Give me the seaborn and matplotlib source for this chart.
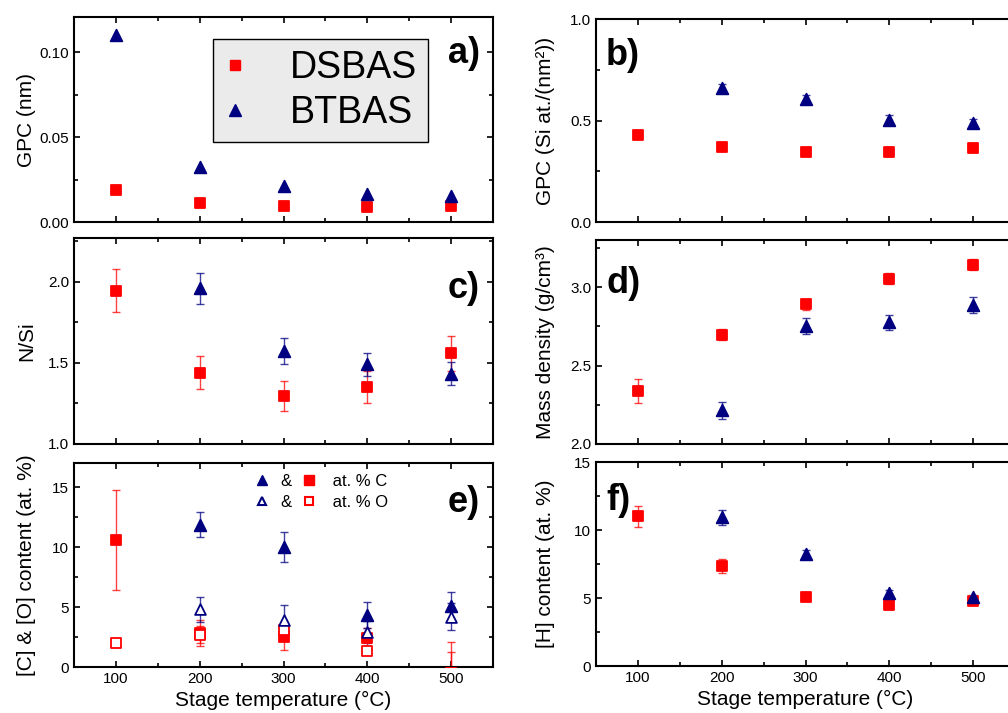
import numpy as np
import pandas as pd
import matplotlib
matplotlib.use("Agg")
import matplotlib.pyplot as plt
from matplotlib.lines import Line2D
from matplotlib.ticker import MultipleLocator, FormatStrFormatter
import seaborn as sns

# ---------------- data ----------------
temps = [100, 200, 300, 400, 500]
temps_bt = [200, 300, 400, 500]

# a) GPC (nm)
gpc_nm_dsbas = [0.0188, 0.0114, 0.0094, 0.0088, 0.0094]
gpc_nm_btbas = [0.110, 0.0324, 0.0214, 0.0163, 0.0155]

# b) GPC (Si at./nm^2)
gpc_si_dsbas = [0.430, 0.372, 0.344, 0.344, 0.365]
gpc_si_btbas = [0.659, 0.605, 0.505, 0.490]
gpc_si_btbas_err = [0.02, 0.02, 0.02, 0.02]

# c) N/Si
nsi_dsbas = [1.946, 1.440, 1.296, 1.353, 1.558]
nsi_dsbas_err = [0.135, 0.100, 0.092, 0.100, 0.110]
nsi_btbas = [1.959, 1.574, 1.492, 1.434]
nsi_btbas_err = [0.098, 0.079, 0.072, 0.072]

# d) Mass density
dens_dsbas = [2.339, 2.695, 2.890, 3.053, 3.142]
dens_dsbas_err = [0.075, 0.035, 0.035, 0.035, 0.035]
dens_btbas = [2.214, 2.754, 2.775, 2.886]
dens_btbas_err = [0.052, 0.052, 0.050, 0.050]

# e) [C] & [O] content
c_dsbas = [10.58, 2.85, 2.50, 2.40, -0.5]
c_dsbas_err = [4.20, 1.10, 1.05, 0.85, 2.55]
o_dsbas = [2.02, 2.70, 3.06, 1.36, -0.5]
o_dsbas_err = [0.20, 0.70, 0.40, 0.25, 1.77]
c_btbas = [11.86, 10.03, 4.35, 5.12]
c_btbas_err = [1.05, 1.25, 1.10, 1.10]
o_btbas = [4.80, 3.95, 2.90, 4.20]
o_btbas_err = [1.03, 1.20, 0.90, 1.15]

# f) [H] content
h_dsbas = [11.00, 7.36, 5.04, 4.47, 4.79]
h_dsbas_err = [0.77, 0.50, 0.20, 0.15, 0.20]
h_btbas = [10.95, 8.26, 5.40, 5.04]
h_btbas_err = [0.55, 0.30, 0.20, 0.20]

legend_a_labels = ["DSBAS", "BTBAS"]
legend_e_labels = ["&", "&", " at. % C", " at. % O"]

RED = "#FF0000"
NAVY = "#000080"

# ---------------- style ----------------
sns.set_style("ticks")
plt.rcParams["font.family"] = ["Liberation Sans", "DejaVu Sans"]
plt.rcParams["axes.linewidth"] = 1.5
for key in ("text.color", "axes.labelcolor", "xtick.color", "ytick.color",
            "axes.edgecolor"):
    plt.rcParams[key] = "black"

fig = plt.figure(figsize=(10.08, 7.13), dpi=100)

W = 0.4157
LX, RX = 0.0734, 0.5913
ax_a = fig.add_axes([LX, 0.6886, W, 0.2875])
ax_c = fig.add_axes([LX, 0.3773, W, 0.2889])
ax_e = fig.add_axes([LX, 0.0645, W, 0.2861])
ax_b = fig.add_axes([RX, 0.6886, W, 0.2847])
ax_d = fig.add_axes([RX, 0.3773, W, 0.2861])
ax_f = fig.add_axes([RX, 0.0659, W, 0.2861])


def points(ax, x, y, marker, color, filled=True, err=None, s=60):
    if err is not None:
        ax.errorbar(x, y, yerr=err, fmt="none", ecolor=color, elinewidth=1.0,
                    capsize=3, capthick=1.0, alpha=0.75, zorder=2)
    df = pd.DataFrame({"T": x, "v": y})
    kw = dict(marker=marker, s=s, color=color, edgecolor=color, linewidth=1.3,
              legend=False, zorder=3)
    if not filled:
        kw["facecolor"] = "white"
    sns.scatterplot(data=df, x="T", y="v", ax=ax, **kw)


def style(ax, ylim, major, minor, fmt, show_x=False):
    ax.set_xlim(50, 550)
    ax.set_ylim(*ylim)
    ax.xaxis.set_major_locator(MultipleLocator(100))
    ax.xaxis.set_minor_locator(MultipleLocator(50))
    ax.yaxis.set_major_locator(MultipleLocator(major))
    ax.yaxis.set_minor_locator(MultipleLocator(minor))
    if fmt:
        ax.yaxis.set_major_formatter(FormatStrFormatter(fmt))
    ax.tick_params(which="both", direction="in", top=True, right=True,
                   width=1.2, labelsize=11, colors="black")
    ax.tick_params(which="major", length=4.5)
    ax.tick_params(which="minor", length=3)
    if not show_x:
        ax.tick_params(axis="x", labelbottom=False)
        ax.set_xlabel("")
    else:
        ax.set_xlabel("Stage temperature (°C)", fontsize=15)
    for sp in ax.spines.values():
        sp.set_linewidth(1.5)
        sp.set_color("black")


def panel_label(ax, text, y, left):
    ax.text(0.024 if left else 0.969, y, text, transform=ax.transAxes,
            fontsize=26, fontweight="bold", ha="left" if left else "right",
            va="baseline")


# a)
points(ax_a, temps, gpc_nm_dsbas, "s", RED)
points(ax_a, temps, gpc_nm_btbas, "^", NAVY, s=70)
style(ax_a, (0, 0.1206), 0.05, 0.025, "%.2f")
ax_a.set_ylabel("GPC (nm)", fontsize=15)
panel_label(ax_a, "a)", 0.776, left=False)
handles_a = [Line2D([], [], ls="none", marker="s", color=RED, markersize=7),
             Line2D([], [], ls="none", marker="^", color=NAVY, markersize=8)]
leg = ax_a.legend(handles_a, legend_a_labels, loc="upper left",
                  bbox_to_anchor=(0.332, 0.893), borderaxespad=0, fontsize=27,
                  frameon=True, fancybox=False, framealpha=1, facecolor="#EBEBEB",
                  edgecolor="black", borderpad=0.3, handlelength=0.58,
                  handletextpad=1.17, labelspacing=0.24)
leg.get_frame().set_linewidth(1.0)

# b)
points(ax_b, temps, gpc_si_dsbas, "s", RED)
points(ax_b, temps_bt, gpc_si_btbas, "^", NAVY, err=gpc_si_btbas_err, s=70)
style(ax_b, (0, 1.0), 0.5, 0.25, "%.1f")
ax_b.set_ylabel("GPC (Si at./(nm²))", fontsize=15)
panel_label(ax_b, "b)", 0.773, left=True)

# c)
points(ax_c, temps, nsi_dsbas, "s", RED, err=nsi_dsbas_err)
points(ax_c, temps_bt, nsi_btbas, "^", NAVY, err=nsi_btbas_err, s=70)
style(ax_c, (1.0, 2.27), 0.5, 0.25, "%.1f")
ax_c.set_ylabel("N/Si", fontsize=15)
panel_label(ax_c, "c)", 0.71, left=False)

# d)
points(ax_d, temps, dens_dsbas, "s", RED, err=dens_dsbas_err)
points(ax_d, temps_bt, dens_btbas, "^", NAVY, err=dens_btbas_err, s=70)
style(ax_d, (2.0, 3.3), 0.5, 0.25, "%.1f")
ax_d.set_ylabel("Mass density (g/cm³)", fontsize=15)
panel_label(ax_d, "d)", 0.74, left=True)

# e)
points(ax_e, temps, c_dsbas, "s", RED, err=c_dsbas_err)
points(ax_e, temps, o_dsbas, "s", RED, filled=False, err=o_dsbas_err, s=50)
points(ax_e, temps_bt, c_btbas, "^", NAVY, err=c_btbas_err, s=70)
points(ax_e, temps_bt, o_btbas, "^", NAVY, filled=False, err=o_btbas_err, s=60)
style(ax_e, (0, 17), 5, 2.5, None, show_x=True)
ax_e.set_ylabel("[C] & [O] content (at. %)", fontsize=15)
panel_label(ax_e, "e)", 0.76, left=False)
handles_e = [Line2D([], [], ls="none", marker="^", color=NAVY, markersize=7),
             Line2D([], [], ls="none", marker="^", color=NAVY, mfc="white",
                    mew=1.5, markersize=6),
             Line2D([], [], ls="none", marker="s", color=RED, markersize=6.5),
             Line2D([], [], ls="none", marker="s", color=RED, mfc="white",
                    mew=1.5, markersize=5.5)]
ax_e.legend(handles_e, legend_e_labels, ncol=2,
            loc="upper left", bbox_to_anchor=(0.429, 0.945), borderaxespad=0,
            borderpad=0, frameon=False, fontsize=12, handlelength=1.0,
            handletextpad=0.6, columnspacing=0.56, labelspacing=0.35)

# f)
points(ax_f, temps, h_dsbas, "s", RED, err=h_dsbas_err)
points(ax_f, temps_bt, h_btbas, "^", NAVY, err=h_btbas_err, s=70)
style(ax_f, (0, 15), 5, 2.5, None, show_x=True)
ax_f.set_ylabel("[H] content (at. %)", fontsize=15)
panel_label(ax_f, "f)", 0.765, left=True)

for ax in (ax_a, ax_c, ax_e):
    ax.yaxis.set_label_coords(-0.09, 0.5)
for ax in (ax_b, ax_d, ax_f):
    ax.yaxis.set_label_coords(-0.098, 0.5)

fig.savefig("out.png", dpi=100)
